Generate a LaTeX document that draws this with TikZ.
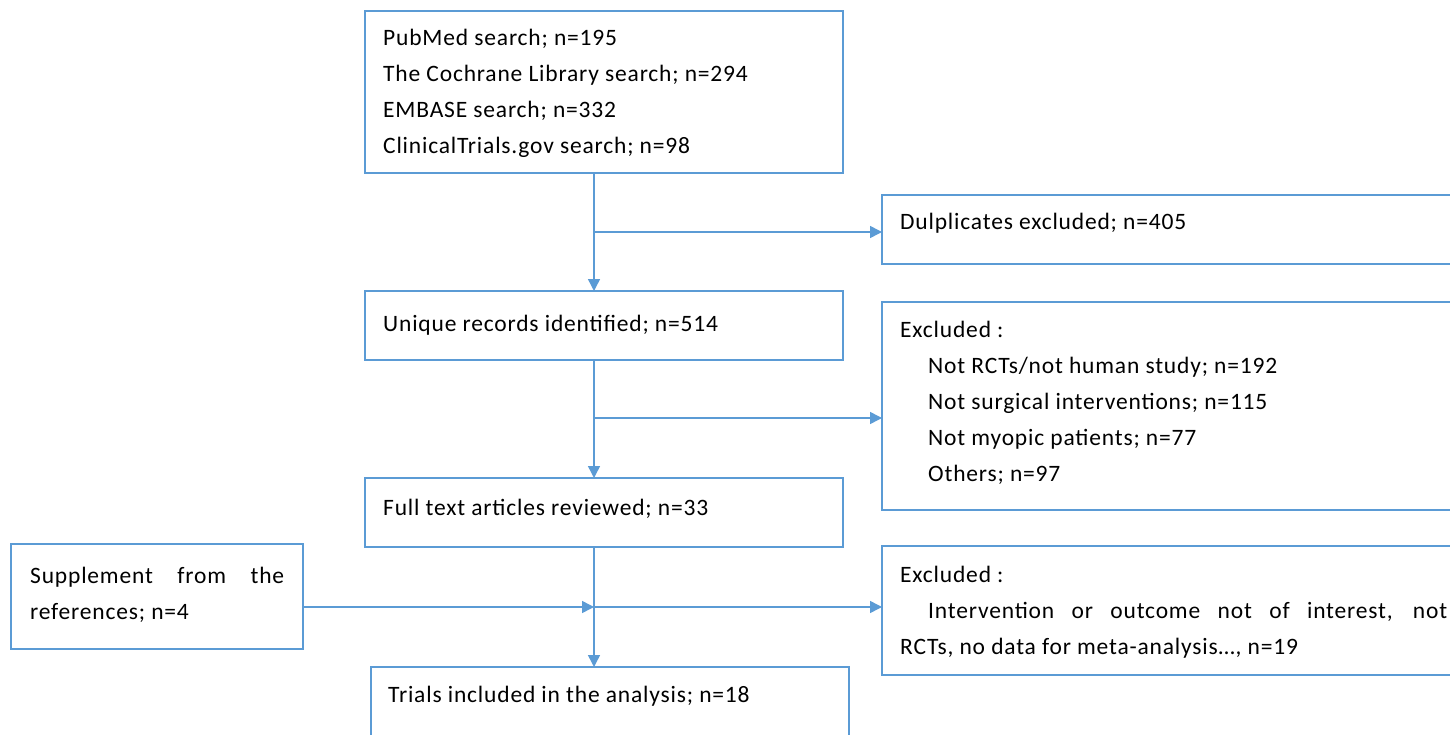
\documentclass[tikz,border=0pt]{standalone}
\usepackage{fontspec}
\setmainfont[LetterSpace=3.5]{Carlito}
\usetikzlibrary{arrows.meta}
\definecolor{wblue}{RGB}{91,155,213}
\begin{document}
\begin{tikzpicture}[x=1pt,y=-1pt,
  box/.style={draw=wblue,line width=1.5pt,inner sep=0pt,outer sep=0pt,anchor=north west},
  txt/.style={anchor=base west,inner sep=0pt,font=\fontsize{23.5}{28}\selectfont,text=black},
  conn/.style={draw=wblue,line width=1.5pt},
  arr/.style={conn,-{Triangle[length=12pt,width=12pt]}}]
\useasboundingbox (0,0) rectangle (1450,735);
\clip (0,0) rectangle (1450,735);
\fill[white] (0,0) rectangle (1450,735);
% boxes
\node[box,minimum width=478pt,minimum height=162pt] (search) at (365,11) {};
\node[box,minimum width=600pt,minimum height=69pt] (dup) at (882,195) {};
\node[box,minimum width=478pt,minimum height=69pt] (unique) at (365,291) {};
\node[box,minimum width=600pt,minimum height=208pt] (excla) at (882,302) {};
\node[box,minimum width=478pt,minimum height=69pt] (full) at (365,478) {};
\node[box,minimum width=292pt,minimum height=105pt] (supp) at (11,544) {};
\node[box,minimum width=600pt,minimum height=129pt] (exclb) at (882,546) {};
\node[box,minimum width=478pt,minimum height=100pt] (trials) at (371,667) {};
% texts
\node[txt] (s1) at (383,46) {PubMed search; n=195};
\node[txt] (s2) at (383,82) {The Cochrane Library search; n=294};
\node[txt] (s3) at (383,118) {EMBASE search; n=332};
\node[txt] (s4) at (383,154) {ClinicalTrials.gov search; n=98};
\node[txt] (d1) at (900,230) {Dulplicates excluded; n=405};
\node[txt] (u1) at (383,331) {Unique records identified; n=514};
\node[txt] (ea0) at (900,337) {Excluded :};
\node[txt] (ea1) at (928,373) {Not RCTs/not human study; n=192};
\node[txt] (ea2) at (928,409) {Not surgical interventions; n=115};
\node[txt] (ea3) at (928,445) {Not myopic patients; n=77};
\node[txt] (ea4) at (928,481) {Others; n=97};
\node[txt] (f1) at (383,515) {Full text articles reviewed; n=33};
\node[txt] (p1) at (30,583) {\makebox[254pt][s]{Supplement from the}};
\node[txt] (p2) at (30,619) {references; n=4};
\node[txt] (eb0) at (900,582) {Excluded :};
\node[txt] (eb1) at (928,618) {\makebox[519pt][s]{Intervention or outcome not of interest, not}};
\node[txt] (eb2) at (900,654) {RCTs, no data for meta-analysis…, n=19};
\node[txt] (t1) at (388,702) {Trials included in the analysis; n=18};
% connectors
\coordinate (sx) at (594,0);
\coordinate (ba) at (594,232);
\coordinate (bb) at (594,418);
\coordinate (bc) at (594,607);
\draw[arr] (search.south -| sx) -- (unique.north -| sx);
\draw[arr] (ba) -- (ba -| dup.west);
\draw[arr] (unique.south -| sx) -- (full.north -| sx);
\draw[arr] (bb) -- (bb -| excla.west);
\draw[arr] (full.south -| sx) -- (trials.north -| sx);
\draw[arr] (supp.east |- bc) -- (bc);
\draw[arr] (bc) -- (bc -| exclb.west);
\end{tikzpicture}
\end{document}
